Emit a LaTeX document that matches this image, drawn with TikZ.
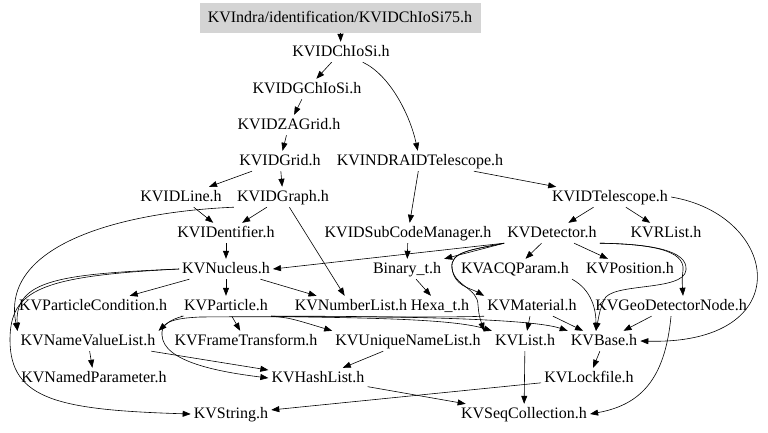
\documentclass[tikz,border=0pt]{standalone}
\usepackage{fontspec}
\setmainfont{Liberation Serif}
\usetikzlibrary{arrows.meta}

\begin{document}
\begin{tikzpicture}[x=1pt, y=-1pt,
    hdr/.style={font=\fontsize{16}{18}\selectfont, inner sep=3pt, text height=11pt, text depth=3pt},
    dep/.style={-{Triangle[length=8pt,width=6pt]}, line width=0.6pt}]
    \useasboundingbox (0,0) rectangle (768,432);
    \node[hdr, fill=black!17, minimum width=281pt, minimum height=30pt] (root) at (340,18) {KVIndra/identification/KVIDChIoSi75.h};
    \foreach \name/\x/\y/\txt in {chiosi/341/52/KVIDChIoSi.h, gchiosi/307/89/KVIDGChIoSi.h,
        zagrid/289/125/KVIDZAGrid.h, idgrid/280/161/KVIDGrid.h, indratel/420/161/KVINDRAIDTelescope.h,
        idline/181/197/KVIDLine.h, idgraph/283/197/KVIDGraph.h, idtel/610/197/KVIDTelescope.h,
        identifier/226/233/KVIDentifier.h, subcode/408/233/KVIDSubCodeManager.h,
        detector/552/233/KVDetector.h, rlist/666/233/KVRList.h,
        nucleus/226/269/KVNucleus.h, binary/407/269/Binary\_t.h, acq/515/269/KVACQParam.h,
        position/630/269/KVPosition.h,
        partcond/93/306/KVParticleCondition.h, particle/226/306/KVParticle.h,
        numlist/351/306/KVNumberList.h, hexa/440/306/Hexa\_t.h, material/532/306/KVMaterial.h,
        geonode/671/306/KVGeoDetectorNode.h,
        namevalue/88/341/KVNameValueList.h, frame/246/341/KVFrameTransform.h,
        unique/408/341/KVUniqueNameList.h, list/525/341/KVList.h, base/604/341/KVBase.h,
        namedpar/94/378/KVNamedParameter.h, hashlist/318/378/KVHashList.h,
        lockfile/589/378/KVLockfile.h,
        string/231/414/KVString.h, seqcoll/524/414/KVSeqCollection.h} {
      \node[hdr] (\name) at (\x,\y) {\txt};
    }
    \foreach \a/\b in {root/chiosi, chiosi/gchiosi, gchiosi/zagrid, zagrid/idgrid, idgrid/idline,
        idgrid/idgraph, indratel/idtel, indratel/subcode, idline/identifier, idgraph/identifier,
        idgraph/numlist, identifier/nucleus, nucleus/partcond, nucleus/particle, nucleus/numlist,
        subcode/binary, binary/hexa, detector/acq, detector/position,
        idtel/detector, idtel/rlist, material/list, material/base, geonode/base,
        unique/hashlist, hashlist/seqcoll, list/seqcoll, base/lockfile, lockfile/string,
        namevalue/namedpar, namevalue/hashlist, particle/frame} {
      \draw[dep] (\a) -- (\b);
    }
    \draw[dep] (chiosi) .. controls (390,75) and (410,115) .. (indratel);
    \draw[dep] (idgraph.south west) .. controls (120,212) and (0,245) .. (namevalue.north west);
    \draw[dep] (nucleus.west) .. controls (60,274) and (15,280) .. (namevalue.north west);
    \draw[dep] (nucleus.west) .. controls (40,276) and (10,290) .. (10,340)
      .. controls (10,400) and (60,410) .. (string.west);
    \draw[dep] (detector.south west) -- (nucleus.east);
    \draw[dep] (detector.south west) -- (binary.north east);
    \draw[dep] (detector.south west) .. controls (470,250) and (450,252) .. (452,268)
      .. controls (454,286) and (470,288) .. (material.north west);
    \draw[dep] (detector.south west) .. controls (470,250) and (450,252) .. (452,268)
      .. controls (454,286) and (478,288) .. (478,305) .. controls (479,315) .. (unique.north east);
    \draw[dep] (particle.south east) .. controls (290,318) .. (unique.north west);
    \draw[dep] (particle.south east) .. controls (350,318) and (450,318) .. (list.north west);
    \draw[dep] (particle.south east) .. controls (380,316) and (530,318) .. (base.north west);
    \draw[dep] (material.south west) .. controls (440,318) and (300,316) .. (200,317)
      .. controls (180,318) and (170,320) .. (namevalue.north east);
    \draw[dep] (particle.south west) .. controls (190,316) and (160,318) .. (162,335)
      .. controls (163,362) and (220,372) .. (hashlist.west);
    \draw[dep] (acq.south east) .. controls (592,290) and (596,310) .. ([xshift=-8pt]base.north);
    \draw[dep] (detector.south east) .. controls (650,244) and (685,250) .. (683,270)
      .. controls (682,280) .. ([xshift=12pt]geonode.north);
    \draw[dep] (detector.south east) .. controls (650,244) and (688,250) .. (686,270)
      .. controls (684,292) and (610,282) .. (604,300) .. controls (600,310) .. ([xshift=-8pt]base.north);
    \draw[dep] (idtel.east) .. controls (780,215) and (800,345) .. (base.east);
    \draw[dep] (geonode.south) .. controls (665,380) and (640,405) .. (seqcoll.east);
\end{tikzpicture}
\end{document}
